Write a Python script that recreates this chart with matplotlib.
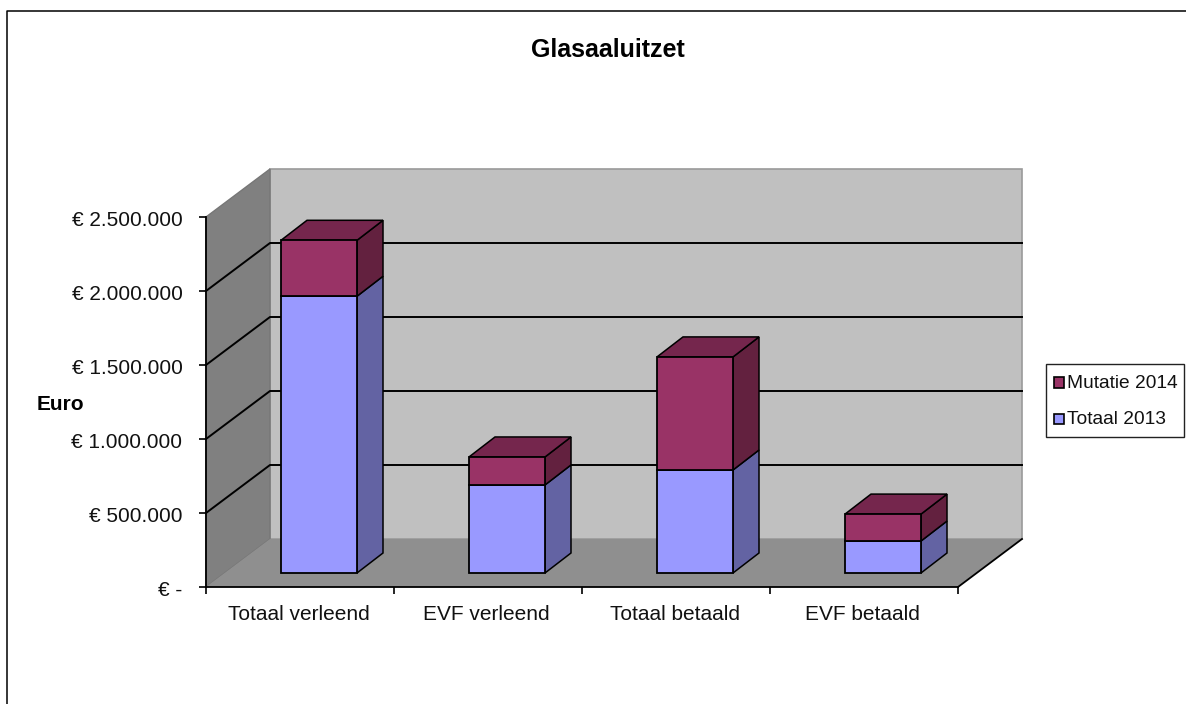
import matplotlib
matplotlib.use('Agg')
import matplotlib.pyplot as plt
from matplotlib.lines import Line2D
from matplotlib.patches import Polygon, Rectangle
from matplotlib.transforms import ScaledTranslation
import numpy as np

CATEGORIES = ['Totaal verleend', 'EVF verleend', 'Totaal betaald', 'EVF betaald']
TOTAAL_2013 = [1870000, 595000, 696000, 216000]
MUTATIE_2014 = [378000, 189000, 764000, 182000]
Y_TICKS = [0, 500000, 1000000, 1500000, 2000000, 2500000]
Y_LABELS = ['€ -', '€ 500.000', '€ 1.000.000', '€ 1.500.000', '€ 2.000.000', '€ 2.500.000']

W, H = 1186, 704
EURO_PER_PX = 500000 / 74
CAT_PER_PX = 1 / 188

# 3D look: depth of the box and of the bars, in data units
DEPTH_X = 64 * CAT_PER_PX
DEPTH_Y = 48 * EURO_PER_PX
BAR_SHIFT_X = 19 * CAT_PER_PX
BAR_SHIFT_Y = 14 * EURO_PER_PX
BAR_DEPTH_X = 26 * CAT_PER_PX
BAR_DEPTH_Y = 20 * EURO_PER_PX
BAR_WIDTH = 76 * CAT_PER_PX

BLUE, BLUE_SIDE, BLUE_TOP = '#9999FF', '#6363A3', '#7373BF'
RED, RED_SIDE, RED_TOP = '#993366', '#63213F', '#75264D'

plt.rcParams['font.family'] = ['Liberation Sans', 'DejaVu Sans']


def poly(ax, pts, color, edge='none', lw=0, z=1):
    ax.add_patch(Polygon(pts, closed=True, facecolor=color, edgecolor=edge,
                         linewidth=lw, zorder=z, clip_on=False, joinstyle='miter'))


def fig_rect(fig, x0, y0, x1, y1, color, edge, lw):
    # pixel box, y measured from the top of the image
    fig.add_artist(Rectangle((x0 / W, 1 - y1 / H), (x1 - x0) / W, (y1 - y0) / H,
                             transform=fig.transFigure, facecolor=color,
                             edgecolor=edge, linewidth=lw))


def main():
    fig = plt.figure(figsize=(W / 100, H / 100), dpi=100)
    ax = fig.add_axes([206 / W, 1 - 587 / H, (958 - 206) / W, (587 - 217) / H])
    n = len(CATEGORIES)
    ymax = Y_TICKS[-1]
    ax.set_xlim(0, n)
    ax.set_ylim(0, ymax)
    ax.patch.set_visible(False)

    # box: back wall, side wall, floor
    poly(ax, [(DEPTH_X, DEPTH_Y), (n + DEPTH_X, DEPTH_Y),
              (n + DEPTH_X, ymax + DEPTH_Y), (DEPTH_X, ymax + DEPTH_Y)],
         '#C0C0C0', '#9A9A9A', 1.2, z=1)
    poly(ax, [(0, 0), (DEPTH_X, DEPTH_Y), (DEPTH_X, ymax + DEPTH_Y), (0, ymax)],
         '#808080', '#777777', 1.0, z=1.5)
    poly(ax, [(0, 0), (n, 0), (n + DEPTH_X, DEPTH_Y), (DEPTH_X, DEPTH_Y)],
         '#8F8F8F', 'none', 0, z=2)
    ax.plot([n, n + DEPTH_X], [0, DEPTH_Y], color='black', lw=1.3, zorder=2.1, clip_on=False)

    # gridlines run along the side wall and the back wall
    for t in Y_TICKS[1:-1]:
        ax.plot([0, DEPTH_X, n + DEPTH_X], [t, t + DEPTH_Y, t + DEPTH_Y],
                color='black', lw=1.4, zorder=1.8, clip_on=False)

    # stacked bars
    xs = np.arange(n) + 0.5 + BAR_SHIFT_X
    ax.bar(xs, TOTAAL_2013, BAR_WIDTH, bottom=BAR_SHIFT_Y, color=BLUE,
           edgecolor='black', linewidth=1.3, zorder=5, clip_on=False)
    ax.bar(xs, MUTATIE_2014, BAR_WIDTH, bottom=np.array(TOTAAL_2013) + BAR_SHIFT_Y,
           color=RED, edgecolor='black', linewidth=1.3, zorder=5, clip_on=False)
    for x, a, b in zip(xs, TOTAAL_2013, MUTATIE_2014):
        r = x + BAR_WIDTH / 2
        l = x - BAR_WIDTH / 2
        y0 = BAR_SHIFT_Y
        y1 = y0 + a
        y2 = y1 + b
        dx, dy = BAR_DEPTH_X, BAR_DEPTH_Y
        poly(ax, [(r, y0), (r + dx, y0 + dy), (r + dx, y1 + dy), (r, y1)], BLUE_SIDE, 'black', 1.1, z=4)
        poly(ax, [(r, y1), (r + dx, y1 + dy), (r + dx, y2 + dy), (r, y2)], RED_SIDE, 'black', 1.1, z=4)
        poly(ax, [(l, y2), (r, y2), (r + dx, y2 + dy), (l + dx, y2 + dy)], RED_TOP, 'black', 1.1, z=4)

    # axes
    for side in ['top', 'right']:
        ax.spines[side].set_visible(False)
    for side in ['left', 'bottom']:
        ax.spines[side].set_linewidth(1.3)
        ax.spines[side].set_zorder(3)
    ax.set_yticks(Y_TICKS)
    ax.set_yticklabels(Y_LABELS, fontsize=15, color='#111111')
    ax.tick_params(axis='y', length=5, width=1.2, pad=12)
    ax.set_xticks(range(n + 1))
    ax.set_xticklabels([])
    ax.tick_params(axis='x', which='major', length=5, width=1.2)
    ax.set_xticks(np.arange(n) + 0.5, minor=True)
    ax.set_xticklabels(CATEGORIES, minor=True, fontsize=15, color='#111111')
    ax.tick_params(axis='x', which='minor', length=0, pad=13)

    # nudge the tick labels a pixel or so
    for lab in ax.get_yticklabels():
        lab.set_transform(lab.get_transform() + ScaledTranslation(0, -1.5 / 100, fig.dpi_scale_trans))
    for lab in ax.get_xticklabels(minor=True):
        lab.set_transform(lab.get_transform() + ScaledTranslation(-1.5 / 100, 0, fig.dpi_scale_trans))

    fig.text(608 / W, 1 - 50 / H, 'Glasaaluitzet', ha='center', va='center',
             fontsize=18, fontweight='bold')
    fig.text(60.5 / W, 1 - 404 / H, 'Euro', ha='center', va='center',
             fontsize=15, fontweight='bold')

    # legend box, placed by hand to keep its tall row spacing
    fig_rect(fig, 1046, 364, 1183.5, 437, 'white', '#222222', 1.0)
    fig_rect(fig, 1053.5, 377, 1063.5, 387.5, RED, 'black', 1.2)
    fig_rect(fig, 1053.5, 414, 1063.5, 424, BLUE, 'black', 1.2)
    fig.text(1067 / W, 1 - 383 / H, 'Mutatie 2014', ha='left', va='center', fontsize=13.8, color='#111111')
    fig.text(1067 / W, 1 - 420 / H, 'Totaal 2013', ha='left', va='center', fontsize=13.8, color='#111111')

    # chart area border, cropped at right and bottom
    fig.add_artist(Line2D([7 / W, 7 / W, 1], [0, 1 - 10.5 / H, 1 - 10.5 / H], color='black', lw=1.1))

    fig.savefig('out.png', dpi=100)
    plt.close(fig)


if __name__ == '__main__':
    main()
